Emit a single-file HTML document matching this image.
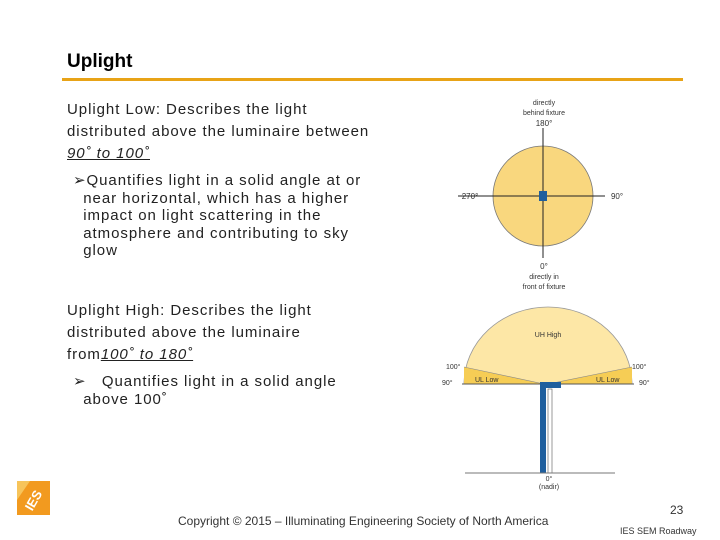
<!DOCTYPE html>
<html><head><meta charset="utf-8"><style>
body{margin:0;width:720px;height:540px;background:#fff;position:relative;overflow:hidden;font-family:"Liberation Sans",sans-serif;}
.t{position:absolute;color:#222;font-size:15px;letter-spacing:0.95px;white-space:nowrap;}
</style></head><body>
<div class="t" style="left:67px;top:51px;font-size:19px;font-weight:bold;color:#000;letter-spacing:0">Uplight</div>
<div style="position:absolute;left:62px;top:78px;width:621px;height:3px;background:#e8a317"></div>
<div class="t" style="left:67px;top:99px;line-height:22px">Uplight Low: Describes the light<br>distributed above the luminaire between<br><i><u>90˚ to 100˚</u></i></div>
<div class="t" style="left:73px;top:172px;line-height:17.5px">➢Quantifies light in a solid angle at or<br>&nbsp;&nbsp;near horizontal, which has a higher<br>&nbsp;&nbsp;impact on light scattering in the<br>&nbsp;&nbsp;atmosphere and contributing to sky<br>&nbsp;&nbsp;glow</div>
<div class="t" style="left:67px;top:300px;line-height:22px">Uplight High: Describes the light<br>distributed above the luminaire<br>from<i><u>100˚ to 180˚</u></i></div>
<div class="t" style="left:73px;top:373px;line-height:18px">➢ &nbsp;&nbsp;Quantifies light in a solid angle<br>&nbsp;&nbsp;above 100˚</div>
<svg width="720" height="540" style="position:absolute;left:0;top:0" font-family="Liberation Sans, sans-serif">
<g>
<circle cx="543" cy="196" r="50" fill="#f9d77e" stroke="#777" stroke-width="0.8"/>
<line x1="543" y1="128" x2="543" y2="258" stroke="#222" stroke-width="1"/>
<line x1="458" y1="196" x2="605" y2="196" stroke="#222" stroke-width="1"/>
<rect x="539" y="191" width="8" height="10" fill="#1f5f9e"/>
<g font-size="7" fill="#333" text-anchor="middle">
<text x="544" y="105">directly</text><text x="544" y="115">behind fixture</text><text x="544" y="126" font-size="8">180°</text>
<text x="470" y="199" font-size="8">270°</text><text x="617" y="199" font-size="8">90°</text>
<text x="544" y="269" font-size="8">0°</text><text x="544" y="279">directly in</text><text x="544" y="289">front of fixture</text>
</g></g>
<g>
<path d="M464 384 A84 77 0 0 1 632 384 Z" fill="#fde7a6" stroke="#999" stroke-width="0.8"/>
<path d="M464 384 L464 367 L544 384 Z" fill="#f6cd55"/>
<path d="M632 384 L632 367 L548 384 Z" fill="#f6cd55"/>
<line x1="464" y1="367" x2="544" y2="384" stroke="#888" stroke-width="0.6"/>
<line x1="632" y1="367" x2="548" y2="384" stroke="#888" stroke-width="0.6"/>
<line x1="462" y1="384" x2="634" y2="384" stroke="#555" stroke-width="1"/>
<rect x="540" y="382" width="6" height="91" fill="#1f5f9e"/>
<rect x="548" y="389" width="4" height="84" fill="#fff" stroke="#555" stroke-width="0.6"/>
<rect x="540" y="382" width="21" height="6" fill="#1f5f9e"/>
<line x1="465" y1="473" x2="615" y2="473" stroke="#777" stroke-width="1"/>
<g font-size="7" fill="#333">
<text x="548" y="337" text-anchor="middle">UH High</text>
<text x="475" y="382">UL Low</text><text x="596" y="382">UL Low</text>
<text x="446" y="369">100°</text><text x="632" y="369">100°</text>
<text x="442" y="385">90°</text><text x="639" y="385">90°</text>
<text x="549" y="481" text-anchor="middle">0°</text><text x="549" y="489" text-anchor="middle">(nadir)</text>
</g></g>
<g>
<rect x="17" y="481" width="33" height="34" fill="#f29a1f"/>
<polygon points="17,481 30,481 17,500" fill="#f7c45a"/>
<text x="33" y="505" font-size="13" font-weight="bold" fill="#fff" text-anchor="middle" transform="rotate(-60 33 500)">IES</text>
</g>
<text x="178" y="525" font-size="12" fill="#333">Copyright © 2015 – Illuminating Engineering Society of North America</text>
<text x="670" y="514" font-size="12" fill="#333">23</text>
<text x="620" y="534" font-size="9" fill="#333">IES SEM Roadway</text>
</svg>
</body></html>
